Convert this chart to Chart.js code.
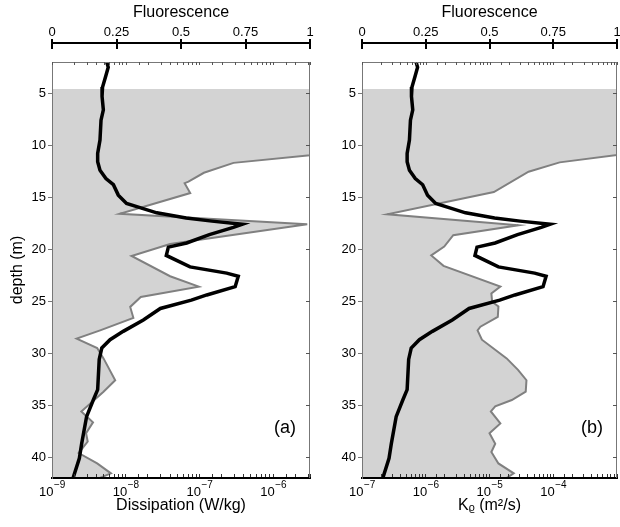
<!DOCTYPE html>
<html>
<head>
<meta charset="utf-8">
<script src="https://cdn.jsdelivr.net/npm/chart.js@4.4.0/dist/chart.umd.min.js"></script>
<style>
body { margin: 0; background: #fff; }
#wrap { position: relative; width: 620px; height: 527px; overflow: hidden; }
canvas { position: absolute; top: 0; }
#graphA { left: 0; }
#graphB { left: 310px; }
</style>
</head>
<body>
<div id="wrap">
<canvas id="graphA" width="320" height="527"></canvas>
<canvas id="graphB" width="310" height="527"></canvas>
</div>
<script>
// fluorescence profile (same in both panels), top axis 0..1
let fluoDepth = [2.0, 2.5, 3.3, 4.4, 5.3, 6.6, 7.6, 9.5, 10.8, 11.6, 12.4, 13.2, 13.8, 14.8, 15.6,
    16.0, 16.5, 17.0, 17.3, 17.6, 17.9, 18.6, 19.4, 19.8, 20.6, 21.7, 22.3, 22.6, 23.6, 24.4,
    24.9, 25.7, 26.8, 27.9, 28.7, 29.5, 30.6, 33.5, 34.5, 36.1, 38.7, 40.1, 41.9, 42.5];
let fluorescence = [0.212, 0.218, 0.209, 0.196, 0.194, 0.199, 0.19, 0.186, 0.177, 0.177, 0.186, 0.209, 0.238, 0.257, 0.289,
    0.341, 0.406, 0.52, 0.62, 0.738, 0.703, 0.61, 0.522, 0.451, 0.443, 0.535, 0.677, 0.722, 0.71, 0.6,
    0.54, 0.42, 0.354, 0.276, 0.225, 0.193, 0.183, 0.177, 0.16, 0.134, 0.115, 0.106, 0.083, 0.078];

// panel (a) dissipation W/kg
let dissDepth = [4.6, 6.6, 8.6, 10.6, 11.7, 12.65, 13.5, 13.65, 14.6, 16.6, 17.6, 19.5, 20.65, 22.6, 23.6,
    24.6, 25.55, 26.6, 27.8, 28.6, 29.5, 30.5, 32.6, 33.7, 35.6, 36.65, 37.7, 38.5, 39.6, 40.6, 41.55, 42.5];
let dissipation = [2.5e-5, 1.6e-5, 2e-5, 1e-5, 2.9e-7, 1.15e-7, 7.1e-8, 6.3e-8, 7.5e-8, 8.3e-9, 2.9e-6, 4.0e-8, 1.2e-8, 4.0e-8, 9.8e-8,
    1.6e-8, 1.15e-8, 1.27e-8, 4.5e-9, 2.16e-9, 4.1e-9, 5.0e-9, 7.2e-9, 5.0e-9, 2.5e-9, 3.6e-9, 2.9e-9, 3.05e-9, 2.3e-9, 4.1e-9, 6.3e-9, 3.0e-9];

// panel (b) K_rho m2/s
let krhoDepth = [4.6, 6.6, 8.6, 10.6, 11.65, 12.55, 14.5, 16.65, 17.7, 18.65, 19.75, 20.6, 21.6, 23.6, 24.25,
    25.05, 25.5, 26.5, 27.45, 27.8, 28.7, 30.5, 31.6, 32.6, 33.7, 34.5, 35.1, 35.6, 36.75, 37.7,
    38.7, 39.5, 40.6, 41.55, 42.5];
let krho = [1e-2, 8e-3, 1e-2, 2.8e-3, 1.26e-4, 4.1e-5, 1.17e-5, 2.5e-7, 2.84e-5, 2.7e-6, 1.95e-6, 1.22e-6, 1.9e-6, 1.48e-5, 1.07e-5,
    1.1e-5, 1.38e-5, 1.35e-5, 7.2e-6, 6.5e-6, 7.6e-6, 1.86e-5, 2.8e-5, 3.8e-5, 3.7e-5, 2.24e-5, 1.23e-5, 1.05e-5, 1.48e-5, 1.0e-5,
    1.23e-5, 1.07e-5, 1.38e-5, 2.4e-5, 1.4e-5];

let depthTicks = [5, 10, 15, 20, 25, 30, 35, 40];
let fluoTicks = [0, 0.25, 0.5, 0.75, 1];
let fluoTickLabels = ['0', '0.25', '0.5', '0.75', '1'];

const FONT = "'Liberation Sans', Arial, sans-serif";
Chart.defaults.font.family = FONT;
Chart.defaults.color = '#000';

function isDecade(v, max) {
    let e = Math.log10(v);
    return Math.abs(e - Math.round(e)) < 1e-6 && v < max * 0.99;
}

// top fluorescence axis, frame, decade labels, panel tag
const panelDeco = {
    id: 'panelDeco',
    afterDraw(chart, args, opts) {
        let ctx = chart.ctx;
        let area = chart.chartArea;
        let x = chart.scales.x, x2 = chart.scales.x2, y = chart.scales.y;
        ctx.save();
        ctx.lineWidth = 1;
        ctx.strokeStyle = '#777';
        ctx.beginPath();
        ctx.moveTo(area.left, area.top + 0.5);
        ctx.lineTo(area.right, area.top + 0.5);
        ctx.moveTo(area.right - 0.5, area.top);
        ctx.lineTo(area.right - 0.5, area.bottom);
        ctx.stroke();
        ctx.strokeStyle = '#555';
        ctx.beginPath();
        x.ticks.forEach(t => {
            let px = Math.round(x.getPixelForValue(t.value)) + 0.5;
            ctx.moveTo(px, area.top);
            ctx.lineTo(px, area.top + 3);
        });
        y.ticks.forEach(t => {
            let py = Math.round(y.getPixelForValue(t.value)) + 0.5;
            ctx.moveTo(area.right, py);
            ctx.lineTo(area.right - 4, py);
        });
        ctx.stroke();

        // 10^n labels of the log axis
        ctx.fillStyle = '#000';
        ctx.textBaseline = 'middle';
        ctx.textAlign = 'left';
        x.ticks.forEach(t => {
            if (!isDecade(t.value, x.max)) return;
            let px = x.getPixelForValue(t.value);
            let ex = '\u2212' + Math.abs(Math.round(Math.log10(t.value)));
            ctx.font = '13px ' + FONT;
            let w1 = ctx.measureText('10').width;
            ctx.font = '10px ' + FONT;
            let w2 = ctx.measureText(ex).width;
            let x0 = px - (w1 + w2) / 2;
            ctx.font = '13px ' + FONT;
            ctx.fillText('10', x0, area.bottom + 14);
            ctx.font = '10px ' + FONT;
            ctx.fillText(ex, x0 + w1 + 0.5, area.bottom + 7);
        });

        // fluorescence axis above the box
        let ay = 43;
        ctx.strokeStyle = '#000';
        ctx.lineWidth = 2;
        ctx.beginPath();
        ctx.moveTo(x2.left, ay);
        ctx.lineTo(x2.right, ay);
        fluoTicks.forEach(v => {
            let px = Math.round(x2.getPixelForValue(v));
            ctx.moveTo(px, ay - 4);
            ctx.lineTo(px, ay + 6);
        });
        ctx.stroke();
        ctx.textAlign = 'center';
        ctx.font = '13px ' + FONT;
        fluoTicks.forEach((v, i) => ctx.fillText(fluoTickLabels[i], x2.getPixelForValue(v), 32));
        ctx.font = '16px ' + FONT;
        ctx.fillText('Fluorescence', (x2.left + x2.right) / 2, 13);

        ctx.font = '18px ' + FONT;
        ctx.textAlign = 'right';
        ctx.fillText(opts.tag, area.right - 14, y.getPixelForValue(37.2));
        ctx.restore();
    }
};

function makePanel(id, depth, values, xmin, xmax, xTitle, tag, yTitle, padRight) {
    let ctx = document.getElementById(id).getContext('2d');
    return new Chart(ctx, {
        type: 'line',
        data: {
            datasets: [{
                data: fluoDepth.map((d, i) => ({x: fluorescence[i], y: d})),
                xAxisID: 'x2',
                borderColor: '#000',
                borderWidth: 3.5,
                pointRadius: 0,
                fill: false,
                clip: 0,
                order: 0
            }, {
                data: depth.map((d, i) => ({x: values[i], y: d})),
                xAxisID: 'x',
                borderColor: '#808080',
                backgroundColor: '#d3d3d3',
                borderWidth: 2,
                pointRadius: 0,
                fill: {value: xmin},
                clip: 0,
                order: 1
            }]
        },
        options: {
            indexAxis: 'y',
            responsive: false,
            animation: false,
            layout: {padding: {top: 62, right: padRight, left: 0, bottom: 0}},
            plugins: {
                legend: {display: false},
                tooltip: {enabled: false},
                panelDeco: {tag: tag}
            },
            scales: {
                x: {
                    type: 'logarithmic',
                    position: 'bottom',
                    min: xmin,
                    max: xmax,
                    border: {color: '#000', width: 2, z: 1},
                    grid: {drawOnChartArea: false, tickLength: -4, color: '#333', z: 1},
                    ticks: {autoSkip: false, maxRotation: 0, callback: () => ''},
                    title: {display: true, text: xTitle, font: {size: 16}, padding: {top: 0, bottom: 12}},
                    afterFit: s => { s.height = 49; }
                },
                x2: {
                    type: 'linear',
                    position: 'top',
                    min: 0,
                    max: 1,
                    display: false
                },
                y: {
                    type: 'linear',
                    reverse: true,
                    min: 2,
                    max: 42,
                    border: {color: '#777', width: 1, z: 1},
                    grid: {drawOnChartArea: false, tickLength: 4, color: '#777'},
                    ticks: {padding: 2, font: {size: 13}},
                    afterBuildTicks: s => { s.ticks = depthTicks.map(v => ({value: v})); },
                    title: {display: yTitle !== '', text: yTitle, font: {size: 16}, padding: {top: 8, bottom: 0}},
                    afterFit: s => { s.width = 52; }
                }
            }
        },
        plugins: [panelDeco]
    });
}

let statA = makePanel('graphA', dissDepth, dissipation, 1e-9, Math.pow(10, -5.5), 'Dissipation (W/kg)', '(a)', 'depth (m)', 10);
let statB = makePanel('graphB', krhoDepth, krho, 1e-7, 1e-3, 'K\u1D68 (m\u00B2/s)', '(b)', '', 1);
</script>
</body>
</html>
